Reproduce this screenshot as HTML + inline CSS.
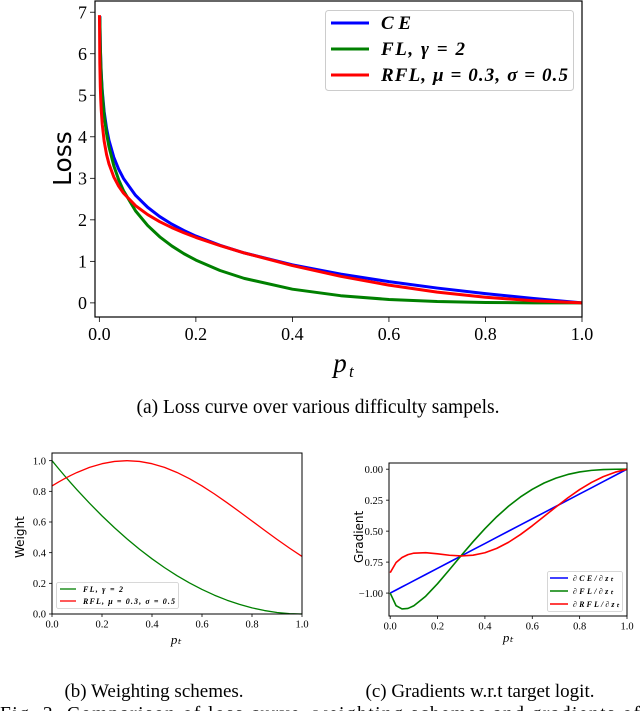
<!DOCTYPE html>
<html><head><meta charset="utf-8"><style>
html,body{margin:0;padding:0;background:#fff;}
svg{display:block;font-family:"Liberation Serif",serif;}
</style></head><body>
<svg id="fig" width="640" height="711" viewBox="0 0 640 711" xmlns="http://www.w3.org/2000/svg">
<text x="318" y="413" text-anchor="middle" font-size="19.5">(a) Loss curve over various difficulty sampels.</text>
<text x="154" y="697" text-anchor="middle" font-size="19">(b) Weighting schemes.</text>
<text x="480" y="697" text-anchor="middle" font-size="19">(c) Gradients w.r.t target logit.</text>
<text x="0" y="720" font-size="19.5" textLength="640">Fig. 3.  Comparison of loss curve, weighting schemes and gradients of</text>
</svg>
<script>
// ---- Chart (a) data ----
const lossX = [0.001,0.002,0.003,0.004,0.006,0.01,0.015,0.02,0.03,0.04,0.05,0.075,0.1,0.125,0.15,0.175,0.2,0.25,0.3,0.4,0.5,0.6,0.7,0.8,0.9,1.0];
const lossCE = [6.908,6.215,5.809,5.521,5.116,4.605,4.200,3.912,3.507,3.219,2.996,2.590,2.303,2.079,1.897,1.743,1.609,1.386,1.204,0.916,0.693,0.511,0.357,0.223,0.105,0];
const lossFL = [6.894,6.190,5.774,5.477,5.055,4.513,4.075,3.757,3.300,2.967,2.704,2.216,1.865,1.592,1.371,1.186,1.030,0.780,0.590,0.330,0.173,0.082,0.032,0.009,0.001,0];
const lossRFLX = [0.00025,0.001,0.002,0.003,0.004,0.006,0.01,0.015,0.02,0.03,0.04,0.05,0.075,0.1,0.125,0.15,0.175,0.2,0.25,0.3,0.4,0.5,0.6,0.7,0.8,0.9,1.0];
const lossRFL = [6.93,5.777,5.204,4.870,4.634,4.304,3.892,3.570,3.344,3.031,2.812,2.644,2.341,2.126,1.956,1.814,1.689,1.577,1.379,1.204,0.898,0.640,0.427,0.259,0.135,0.051,0];
const lossXTicks = [0,0.2,0.4,0.6,0.8,1.0];
const lossXTickLabels = ["0.0","0.2","0.4","0.6","0.8","1.0"];
const lossYTicks = [0,1,2,3,4,5,6,7];
const lossYTickLabels = ["0","1","2","3","4","5","6","7"];
// ---- Chart (b)/(c) data ----
const gridX = [0,0.025,0.05,0.075,0.1,0.15,0.2,0.25,0.3,0.35,0.4,0.45,0.5,0.55,0.6,0.65,0.7,0.75,0.8,0.85,0.9,0.95,1];
const weightFL = [1,.9506,.9025,.8556,.81,.7225,.64,.5625,.49,.4225,.36,.3025,.25,.2025,.16,.1225,.09,.0625,.04,.0225,.01,.0025,0];
const weightRFL = [.8353,.8596,.8825,.9037,.9231,.956,.9802,.995,1,.995,.9802,.956,.9231,.8825,.8353,.7827,.7261,.667,.6065,.5461,.4868,.4296,.3753];
const weightYTicks = [0,0.2,0.4,0.6,0.8,1.0];
const weightYTickLabels = ["0.0","0.2","0.4","0.6","0.8","1.0"];
const gradCE = [-1,-.975,-.95,-.925,-.9,-.85,-.8,-.75,-.7,-.65,-.6,-.55,-.5,-.45,-.4,-.35,-.3,-.25,-.2,-.15,-.1,-.05,0];
const gradFL = [-1,-1.1021,-1.128,-1.1238,-1.102,-1.0253,-.924,-.8118,-.697,-.5851,-.4799,-.3838,-.2983,-.2243,-.1621,-.1115,-.0719,-.0426,-.0223,-.0096,-.0029,-.0004,0];
const gradRFL = [-.8353,-.7531,-.7128,-.6898,-.6778,-.6739,-.6833,-.6946,-.7,-.6943,-.6743,-.6392,-.5896,-.5277,-.457,-.3813,-.3049,-.2315,-.1646,-.1068,-.0598,-.0242,0];
const gradYTicks = [0,-0.25,-0.5,-0.75,-1.0];
const gradYTickLabels = ["0.00","0.25","0.50","0.75","\u22121.00"];
const smallXTicks = [0,0.2,0.4,0.6,0.8,1.0];
const smallXTickLabels = ["0.0","0.2","0.4","0.6","0.8","1.0"];

const NS="http://www.w3.org/2000/svg";
const svg=document.getElementById('fig');
function mk(tag,attrs,parent){const e=document.createElementNS(NS,tag);for(const k in attrs)e.setAttribute(k,attrs[k]);(parent||svg).appendChild(e);return e;}
function scale(d0,d1,r0,r1){return v=>r0+(v-d0)/(d1-d0)*(r1-r0);}

function chart(o){
  const g=mk('g',{});
  
  
  const sx=scale(o.xd[0],o.xd[1],o.box[0],o.box[2]);
  const sy=scale(o.yd[0],o.yd[1],o.box[3],o.box[1]);
  o.series.forEach(s=>{
    const d=s.x.map((x,i)=>(i?'L':'M')+sx(x).toFixed(2)+','+sy(s.y[i]).toFixed(2)).join('');
    const p=mk('path',{d:d,fill:'none',stroke:s.color,'stroke-width':o.lw,'stroke-linejoin':'round'},g);
    
    
  });
  const fr=mk('rect',{x:o.box[0],y:o.box[1],width:o.box[2]-o.box[0],height:o.box[3]-o.box[1],fill:'none',stroke:'#000','stroke-width':o.frameW},g);
  
  
  o.xt.forEach((t,i)=>{
    const x=sx(t);
    mk('line',{x1:x,x2:x,y1:o.box[3],y2:o.box[3]+o.tl,stroke:'#000','stroke-width':0.8},g);
    const tx=mk('text',{x:x,y:o.box[3]+o.tl+o.fs,'text-anchor':'middle','font-size':o.fs},g);
    tx.textContent=o.xtl[i];
    
    
  });
  o.yt.forEach((t,i)=>{
    const y=sy(t);
    mk('line',{x1:o.box[0]-o.tl,x2:o.box[0],y1:y,y2:y,stroke:'#000','stroke-width':0.8},g);
    const tx=mk('text',{x:o.box[0]-o.tl-3,y:y+o.fs*0.35,'text-anchor':'end','font-size':o.fs},g);
    tx.textContent=o.ytl[i];
    
    
  });
  return g;
}

// (a)
const ga=chart({name:'loss-chart',box:[95,1,582,317],xd:[-0.009,1.0],yd:[-0.34,7.27],lw:3,frameW:1.2,tl:5,fs:18,
  xt:lossXTicks,xtl:lossXTickLabels,yt:lossYTicks,ytl:lossYTickLabels,
  series:[{name:'ce-line',x:lossX,y:lossCE,color:'#0000ff'},{name:'fl-line',x:lossX,y:lossFL,color:'#008000'},{name:'rfl-line',x:lossRFLX,y:lossRFL,color:'#ff0000'}]});
let t=mk('text',{x:0,y:0,'font-size':25,'font-family':'"DejaVu Sans",sans-serif',transform:'translate(71,186) rotate(-90)'},ga);
t.textContent='Loss';


t=mk('text',{x:340,y:372,'font-size':27,'font-style':'italic','text-anchor':'middle'},ga);
t.textContent='p';


mk('text',{x:349,y:377,'font-size':17,'font-style':'italic'},ga).textContent='t';
// legend (a)
const la=mk('g',{},ga);


mk('rect',{x:325.5,y:10.5,width:248,height:80,rx:3,fill:'#fff',stroke:'#ccc','stroke-width':1},la);
[['CE','#0000ff',23,30],['FL, \u03b3 = 2','#008000',49,84],['RFL, \u03bc = 0.3, \u03c3 = 0.5','#ff0000',75,187]].forEach(e=>{
  const l=mk('line',{x1:331,x2:369,y1:e[2],y2:e[2],stroke:e[1],'stroke-width':3},la);
  
  
  const tx=mk('text',{x:381,y:e[2]+6,'font-size':19,'font-style':'italic','font-weight':'bold',textLength:e[3]},la);
  tx.textContent=e[0];
  
  
});

// (b)
const gb=chart({name:'weight-chart',box:[52,453,302,614],xd:[0,1],yd:[0,1.05],lw:1.3,frameW:1,tl:3,fs:10.5,
  xt:smallXTicks,xtl:smallXTickLabels,yt:weightYTicks,ytl:weightYTickLabels,
  series:[{name:'fl-weight-line',x:gridX,y:weightFL,color:'#008000'},{name:'rfl-weight-line',x:gridX,y:weightRFL,color:'#ff0000'}]});
t=mk('text',{x:0,y:0,'font-size':12,'font-family':'"DejaVu Sans",sans-serif',transform:'translate(24,558) rotate(-90)'},gb);
t.textContent='Weight';


t=mk('text',{x:176,y:644,'font-size':13,'font-style':'italic','text-anchor':'middle'},gb);
t.textContent='pₜ';


const lb=mk('g',{},gb);


mk('rect',{x:56.5,y:582.5,width:122,height:26,rx:2,fill:'#fff',stroke:'#ccc','stroke-width':0.8},lb);
[['FL, \u03b3 = 2','#008000',589,40],['RFL, \u03bc = 0.3, \u03c3 = 0.5','#ff0000',601,92]].forEach(e=>{
  mk('line',{x1:60,x2:76,y1:e[2],y2:e[2],stroke:e[1],'stroke-width':1.3},lb);
  const tx=mk('text',{x:83,y:e[2]+3,'font-size':8,'font-style':'italic','font-weight':'bold',textLength:e[3]},lb);
  tx.textContent=e[0];
  
  
});

// (c)
const gc=chart({name:'gradient-chart',box:[389,463,627,616],xd:[-0.005,1.0],yd:[-1.185,0.05],lw:1.6,frameW:1,tl:3,fs:10.5,
  xt:smallXTicks,xtl:smallXTickLabels,yt:gradYTicks,ytl:gradYTickLabels,
  series:[{name:'ce-gradient-line',x:gridX,y:gradCE,color:'#0000ff'},{name:'fl-gradient-line',x:gridX,y:gradFL,color:'#008000'},{name:'rfl-gradient-line',x:gridX,y:gradRFL,color:'#ff0000'}]});
t=mk('text',{x:0,y:0,'font-size':12,'font-family':'"DejaVu Sans",sans-serif',transform:'translate(363,563) rotate(-90)'},gc);
t.textContent='Gradient';


t=mk('text',{x:508,y:642,'font-size':13,'font-style':'italic','text-anchor':'middle'},gc);
t.textContent='pₜ';


const lc=mk('g',{},gc);


mk('rect',{x:547.5,y:571.5,width:75,height:40,rx:2,fill:'#fff',stroke:'#ccc','stroke-width':0.8},lc);
[['\u2202CE/\u2202zₜ','#0000ff',578,40],['\u2202FL/\u2202zₜ','#008000',591,40],['\u2202RFL/\u2202zₜ','#ff0000',604,46]].forEach(e=>{
  mk('line',{x1:550,x2:568,y1:e[2],y2:e[2],stroke:e[1],'stroke-width':1.5},lc);
  const tx=mk('text',{x:573,y:e[2]+3,'font-size':8,'font-style':'italic','font-weight':'bold',textLength:e[3]},lc);
  tx.textContent=e[0];
  
  
});
</script>
</body></html>
